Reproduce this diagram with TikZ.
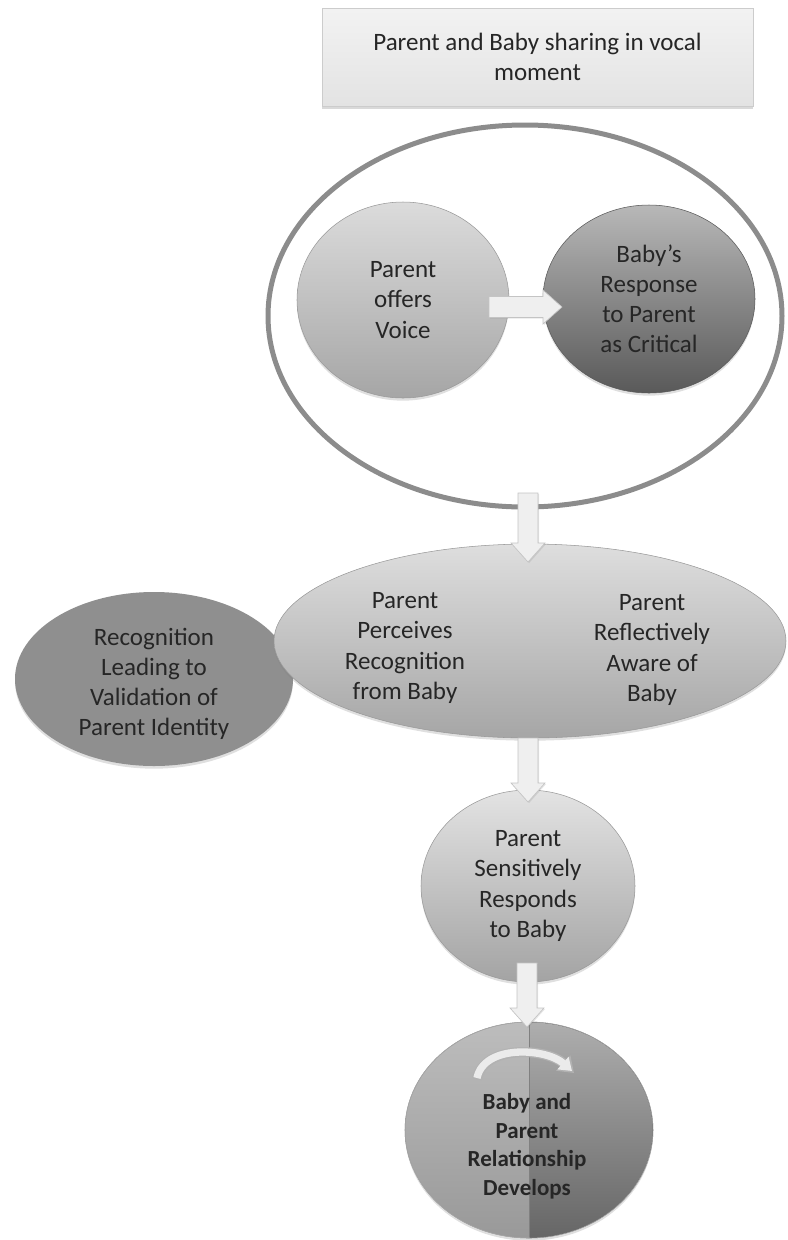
\documentclass[tikz,border=0pt]{standalone}
\usepackage{fontspec}
\setmainfont{Carlito}
\usetikzlibrary{shapes.geometric,shadows,calc,arrows.meta}
\definecolor{txt}{HTML}{262626}
\definecolor{arrfill}{HTML}{EFEFEF}
\definecolor{arredge}{HTML}{C4C4C4}
\newcommand{\vblock}[2]{%
  \filldraw[blockarr] let \p1=(#1), \p2=(#2) in
   (\x1-7.5pt,\y1) -- (\x1+7.5pt,\y1) -- (\x1+7.5pt,\y2+14.25pt) -- (\x1+12.75pt,\y2+14.25pt)
   -- (\x1,\y2) -- (\x1-12.75pt,\y2+14.25pt) -- (\x1-7.5pt,\y2+14.25pt) -- cycle;}
\newcommand{\hblock}[2]{%
  \filldraw[blockarr] let \p1=(#1), \p2=(#2) in
   (\x1,\y1+7.9pt) -- (\x1,\y1-7.9pt) -- (\x2-14.25pt,\y1-7.9pt) -- (\x2-14.25pt,\y1-12.75pt)
   -- (\x2,\y1) -- (\x2-14.25pt,\y1+12.75pt) -- (\x2-14.25pt,\y1+7.9pt) -- cycle;}
\begin{document}
\begin{tikzpicture}[x=0.75pt,y=-0.75pt,
  every node/.style={inner sep=0pt, outer sep=0pt, text=txt, align=center,
    font=\fontsize{18.75}{22.6}\selectfont},
  shade/.style={drop shadow={opacity=0.25, shadow xshift=0pt, shadow yshift=-2pt}},
  blob/.style={ellipse, draw=black!40, line width=0.4pt, shade},
  blockarr/.style={fill=arrfill, draw=arredge, line width=0.5pt,
    drop shadow={opacity=0.2, shadow xshift=0.8pt, shadow yshift=-0.8pt}},
  boldlab/.style={font=\bfseries\fontsize{17.25}{21.4}\selectfont}]
\useasboundingbox (0,0) rectangle (788,1240);

% top box
\node[rectangle, minimum width=323.25pt, minimum height=73.5pt,
  top color=white!95!black, bottom color=white!89!black, draw=black!20, line width=0.5pt,
  drop shadow={opacity=0.3, shadow xshift=0pt, shadow yshift=-2.2pt}]
  (top) at (537.5,57) {Parent and Baby sharing in vocal\\moment};

% outline ellipse
\node[ellipse, draw=black!45, line width=3.75pt, minimum width=385.5pt, minimum height=286.5pt]
  (outline) at (525,316) {};

% two circles
\node[blob, minimum width=159pt, minimum height=147pt, top color=black!14, bottom color=black!35]
  (c1) at (403,300) {Parent\\offers\\Voice};
\node[blob, draw=black!65, minimum width=159pt, minimum height=141pt, top color=black!28, bottom color=black!65]
  (c2) at (649,299) {Baby’s\\Response\\to Parent\\as Critical};
\hblock{$(c1.east)+(-20,7)$}{$(c2.west)+(19,8)$}

% left ellipse (behind)
\node[ellipse, fill=black!44, minimum width=208.5pt, minimum height=130.5pt, shade]
  (left) at (154,679) {};
\node (lefttxt) at (154,684) {Recognition\\Leading to\\Validation of\\Parent Identity};

% big ellipse
\node[blob, minimum width=384pt, minimum height=145.5pt, top color=black!13, bottom color=black!35]
  (big) at (530,641) {};
\node (bigl) at (405,648) {Parent\\Perceives\\Recognition\\from Baby};
\node (bigr) at (652,650) {Parent\\Reflectively\\Aware of\\Baby};

\vblock{$(outline.south)+(3,-14)$}{$(big.north)+(-2,18)$}

% sensitively circle
\node[blob, minimum width=160.5pt, minimum height=144pt, top color=black!11, bottom color=black!36]
  (c3) at (528,886) {Parent\\Sensitively\\Responds\\to Baby};
\vblock{$(big.south)+(-2,0)$}{$(c3.north)+(0,12)$}

% bottom circle
\node[blob, minimum width=186pt, minimum height=162pt, top color=black!26, bottom color=black!40]
  (c4) at (529,1130) {};
\begin{scope}
  \clip (529,1000) rectangle (700,1250);
  \fill[top color=black!32, bottom color=black!60] (c4.center) ellipse [x radius=123.7, y radius=107.7];
\end{scope}
\draw[black!50, line width=0.6pt] (c4.north) -- (c4.south);
\draw[black!35, line width=0.4pt] (c4.center) ellipse [x radius=124, y radius=108];
\node[boldlab] (c4txt) at (527,1146) {Baby and\\Parent\\Relationship\\Develops};
\draw[black!30, line width=7.5pt, -{Triangle[width=15pt,length=11pt]}]
  ($(c4.north)+(-52,57)$) .. controls ($(c4.north)+(-45,22)$) and ($(c4.north)+(18,26)$) .. ($(c4.north)+(45,51)$);
\draw[black!8, line width=5.5pt, -{Triangle[width=12pt,length=9pt]}]
  ($(c4.north)+(-52,56)$) .. controls ($(c4.north)+(-45,22)$) and ($(c4.north)+(17,26)$) .. ($(c4.north)+(43,49)$);
\vblock{$(c3.south)+(-1,-19)$}{$(c4.north)+(-2,5)$}
\end{tikzpicture}
\end{document}
